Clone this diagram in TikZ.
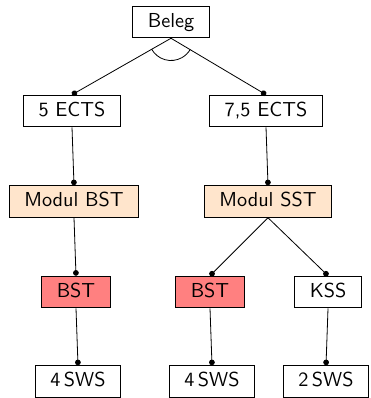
\documentclass[tikz,border=0pt]{standalone}
\usepackage[dvipsnames,rgb]{xcolor}
\usepackage{tikz}
\usetikzlibrary{positioning,shapes,arrows.meta}
\renewcommand{\familydefault}{\sfdefault}

\begin{document}
\begin{tikzpicture}[x=0.4946pt, y=0.4946pt,
        every node/.style={draw, rectangle, inner xsep=7.5pt, minimum height=15.7pt, text height=7pt, text depth=2pt},
        modul/.style={fill=orange!20},
        kurs/.style={fill=red!50},
        link/.style={-{Circle[length=2.8pt]}}]
        \useasboundingbox (0,0) rectangle (370,398);
        % root
        \node (beleg) at (171,376) {Beleg};
        % ECTS layer
        \node (ects_1) at (72,287) {5 ECTS};
        \node (ects_2) at (266,287) {7,5 ECTS};
        % module layer
        \node[modul] (modul_1) at (74,196.5) {Modul BST};
        \node[modul] (modul_2) at (268,196.5) {Modul SST};
        % course layer
        \node[kurs] (kurs_1) at (76,106) {BST};
        \node[kurs] (kurs_2) at (210,106) {BST};
        \node (kurs_3) at (328,106) {KSS};
        % SWS layer
        \node (sws_1) at (78,16.5) {4\,SWS};
        \node (sws_2) at (212,16.5) {4\,SWS};
        \node (sws_3) at (326,16.5) {2\,SWS};

        \foreach \from/\to in {beleg/ects_1, beleg/ects_2, ects_1/modul_1, ects_2/modul_2,
                modul_1/kurs_1, modul_2/kurs_2, modul_2/kurs_3,
                kurs_1/sws_1, kurs_2/sws_2, kurs_3/sws_3}{
            \draw[link] (\from.south) -- (\to.north);
        }
        % AND arc
        \draw ([shift={(209:11pt)}]beleg.south) arc[start angle=209, end angle=330, radius=11pt];
    \end{tikzpicture}
\end{document}
